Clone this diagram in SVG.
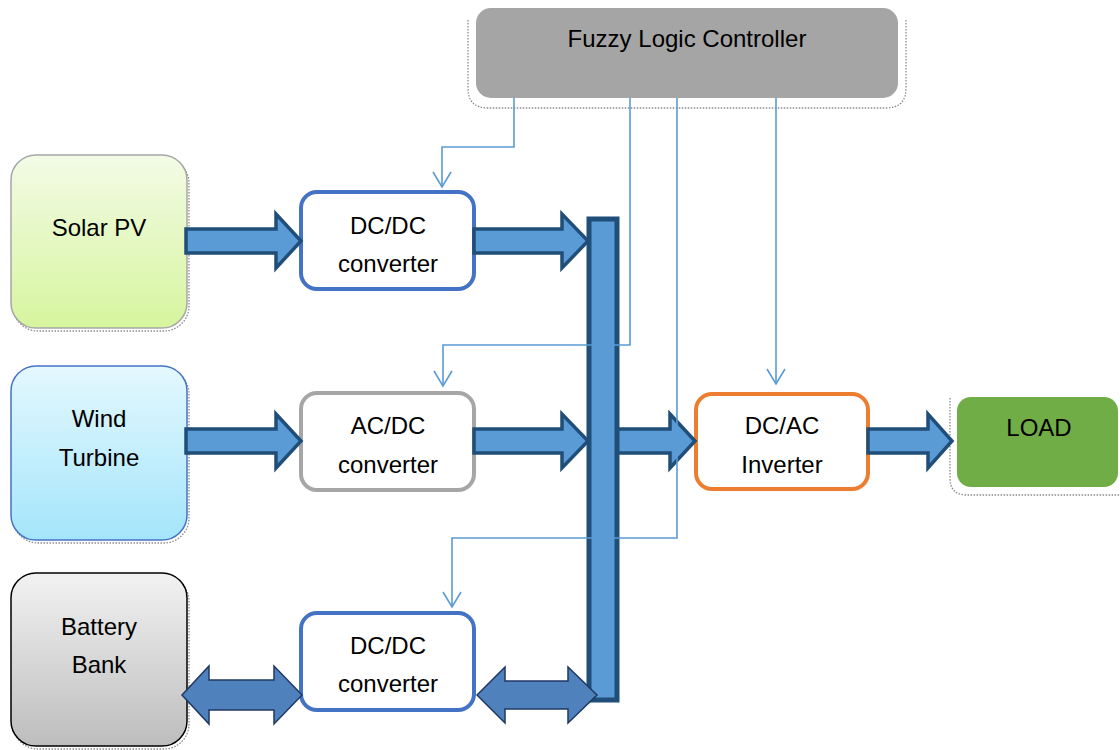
<svg xmlns="http://www.w3.org/2000/svg" width="1120" height="750" viewBox="0 0 1120 750">
  <defs>
    <linearGradient id="gSolar" x1="0" y1="0" x2="0" y2="1">
      <stop offset="0" stop-color="#f3fbe6"/>
      <stop offset="1" stop-color="#d6f59e"/>
    </linearGradient>
    <linearGradient id="gWind" x1="0" y1="0" x2="0" y2="1">
      <stop offset="0" stop-color="#e4f8fe"/>
      <stop offset="1" stop-color="#a4e5fb"/>
    </linearGradient>
    <linearGradient id="gBatt" x1="0" y1="0" x2="0" y2="1">
      <stop offset="0" stop-color="#f2f2f2"/>
      <stop offset="1" stop-color="#bdbdbd"/>
    </linearGradient>
    <marker id="vhead" viewBox="-16 -10 17 20" refX="0" refY="0" markerWidth="17" markerHeight="20" markerUnits="userSpaceOnUse" orient="auto" overflow="visible">
      <path d="M-15,-9 L0,0 L-15,9" fill="none" stroke="#5b9bd5" stroke-width="1.6"/>
    </marker>
  </defs>
  <style>
    text { font-family: "Liberation Sans", Arial, sans-serif; font-size: 24px; fill: #000; text-anchor: middle; }
    .shadow { fill: none; stroke: #8a8a8a; stroke-width: 1.3; stroke-dasharray: 1.5 1.5; }
    .conv { fill: #ffffff; stroke-width: 4; }
    .flow { fill: #5b9bd5; stroke: #1f4e79; stroke-width: 3.5; stroke-linejoin: miter; }
    .dbl { fill: #4f81bd; stroke: #1f3864; stroke-width: 1.5; stroke-linejoin: miter; }
    .ctrl { fill: none; stroke: #5b9bd5; stroke-width: 1.6; marker-end: url(#vhead); }
  </style>

  <rect width="1120" height="750" fill="#ffffff"/>

  <!-- controller -->
  <g id="flc">
    <path class="shadow" d="M468,20 V88 Q468,108 488,108 H886 Q906,108 906,88 V20"/>
    <rect x="476" y="8" width="422" height="90" rx="15" fill="#a5a5a5"/>
    <text x="687" y="47">Fuzzy Logic Controller</text>
  </g>

  <!-- sources -->
  <g id="solar">
    <rect class="shadow" x="13" y="158" width="176" height="173" rx="25"/>
    <rect x="11" y="155" width="176" height="173" rx="25" fill="url(#gSolar)" stroke="#a6a6a6" stroke-width="1.5"/>
    <text x="99" y="236">Solar PV</text>
  </g>
  <g id="wind">
    <rect class="shadow" x="13" y="369" width="176" height="174" rx="25"/>
    <rect x="11" y="366" width="176" height="174" rx="25" fill="url(#gWind)" stroke="#4472c4" stroke-width="1.5"/>
    <text x="99" y="427">Wind</text>
    <text x="99" y="466">Turbine</text>
  </g>
  <g id="battery">
    <rect class="shadow" x="13" y="576" width="176" height="173" rx="25"/>
    <rect x="11" y="573" width="176" height="173" rx="25" fill="url(#gBatt)" stroke="#000000" stroke-width="1.5"/>
    <text x="99" y="635">Battery</text>
    <text x="99" y="673">Bank</text>
  </g>

  <!-- converters -->
  <g id="dcdc1">
    <rect class="conv" x="301" y="192" width="173" height="97" rx="16" stroke="#4472c4"/>
    <text x="388" y="234">DC/DC</text>
    <text x="388" y="272">converter</text>
  </g>
  <g id="acdc">
    <rect class="conv" x="301" y="393" width="173" height="97" rx="16" stroke="#a6a6a6"/>
    <text x="388" y="434">AC/DC</text>
    <text x="388" y="473">converter</text>
  </g>
  <g id="dcdc2">
    <rect class="conv" x="301" y="613" width="173" height="97" rx="16" stroke="#4472c4"/>
    <text x="388" y="654">DC/DC</text>
    <text x="388" y="692">converter</text>
  </g>
  <g id="inverter">
    <rect class="conv" x="696" y="394" width="172" height="95" rx="16" stroke="#ed7d31"/>
    <text x="782" y="434">DC/AC</text>
    <text x="782" y="473">Inverter</text>
  </g>

  <!-- load -->
  <g id="load">
    <path class="shadow" d="M950,398 V478 Q950,495 967,495 H1120"/>
    <rect x="957" y="397" width="161" height="90" rx="14" fill="#70ad47"/>
    <text x="1039" y="436">LOAD</text>
  </g>

  <!-- power flow and control connectors -->
  <g id="connectors">
    <path class="flow" d="M186,229 H276 V214 L301,241 L276,268 V253 H186 Z"/>
    <path class="flow" d="M474,229 H562 V214 L588,241 L562,268 V253 H474 Z"/>
    <path class="flow" d="M186,429 H276 V414 L301,441 L276,468 V453 H186 Z"/>
    <path class="flow" d="M474,429 H562 V414 L588,441 L562,468 V453 H474 Z"/>
    <path class="flow" d="M616,429 H670 V414 L695,441 L670,468 V453 H616 Z"/>
    <path class="flow" d="M868,429 H928 V414 L952,441 L928,468 V453 H868 Z"/>

    <!-- DC bus -->
    <rect x="589" y="219" width="28" height="481" fill="#5b9bd5" stroke="#1f4e79" stroke-width="5"/>

    <path class="dbl" d="M182,695 L209,666 V680 H274 V666 L302,695 L274,724 V710 H209 V724 Z"/>
    <path class="dbl" d="M477,695 L505,667 V681 H568 V667 L597,695 L568,723 V709 H505 V723 Z"/>

    <path class="ctrl" d="M514,98 V147 H442 V187"/>
    <path class="ctrl" d="M630,98 V345 H443 V386"/>
    <path class="ctrl" d="M677,98 V538 H452 V607"/>
    <path class="ctrl" d="M776,98 V384"/>
  </g>
</svg>
